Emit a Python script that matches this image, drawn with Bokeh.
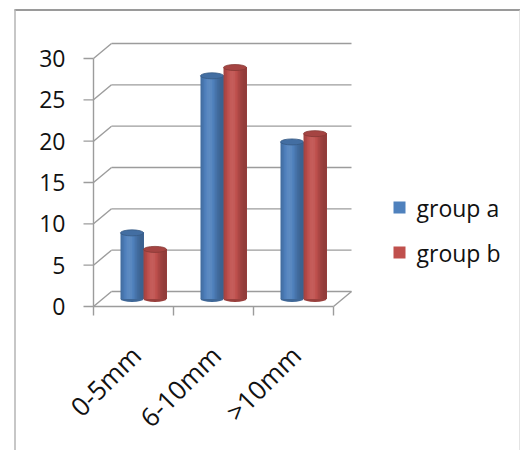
import math
from bokeh.plotting import figure
from bokeh.models import Range1d, ColumnDataSource
from bokeh.core.properties import value
from bokeh.embed import file_html
from bokeh.resources import INLINE

# ---- data ----
categories = ["0-5mm", "6-10mm", ">10mm"]
group_a = [8, 27, 19]
group_b = [6, 28, 20]
series_names = ["group a", "group b"]
y_ticks = [0, 5, 10, 15, 20, 25, 30]

# ---- layout constants (screen pixels) ----
W, H = 520, 450
PX_PER_CAT = 80.0          # horizontal pixels per category
CAT0_PX = 133.0            # pixel x of first category centre (front plane)
ZERO_PX = 306.0            # pixel y (from top) of value 0 on the front plane
PX_PER_UNIT = (306.0 - 58.0) / 30.0
FONT = value("Open Sans")
FS = "23px"

def X(px):
    return (px - CAT0_PX) / PX_PER_CAT

def Y(py):
    return (ZERO_PX - py) / PX_PER_UNIT

# 3-D depth offset of the back wall, in data units
DX = 18.0 / PX_PER_CAT
DY = 15.0 / PX_PER_UNIT

p = figure(width=W, height=H, x_range=Range1d(X(0), X(W)), y_range=Range1d(Y(H), Y(0)),
           output_backend="svg", toolbar_location=None, min_border=0,
           x_axis_location=None, y_axis_location=None)
p.grid.visible = False
p.outline_line_color = None
p.background_fill_color = "white"
p.border_fill_color = "white"

# chart-area border (top and left edges)
p.segment(x0=[X(14), X(14.5)], y0=[Y(9.5), Y(9)], x1=[X(W), X(14.5)], y1=[Y(9.5), Y(H)],
          line_color=["#9a9a9a", "#b4b4b4"], line_width=[2, 1.5])
p.segment(x0=[X(519)], y0=[Y(10)], x1=[X(519)], y1=[Y(H)], line_color="#e4e4e4", line_width=1)

GRID = "#9c9c9c"
n = len(categories)
x_left, x_right = -0.5, n - 0.5
tick_len = 10.0 / PX_PER_CAT

# back-wall gridlines, side diagonals and y ticks
p.segment(x0=[x_left + DX] * len(y_ticks), y0=[v + DY for v in y_ticks],
          x1=[x_right + DX] * len(y_ticks), y1=[v + DY for v in y_ticks],
          line_color=GRID, line_width=1.4)
p.segment(x0=[x_left] * len(y_ticks), y0=y_ticks,
          x1=[x_left + DX] * len(y_ticks), y1=[v + DY for v in y_ticks],
          line_color=GRID, line_width=1.4)
p.segment(x0=[x_left - tick_len] * len(y_ticks), y0=y_ticks,
          x1=[x_left] * len(y_ticks), y1=y_ticks, line_color=GRID, line_width=1.4)
# front vertical axis
p.segment(x0=[x_left], y0=[min(y_ticks)], x1=[x_left], y1=[max(y_ticks)],
          line_color=GRID, line_width=1.4)
# floor front edge and right diagonal
p.segment(x0=[x_left, x_right], y0=[0, 0], x1=[x_right, x_right + DX], y1=[0, DY],
          line_color=GRID, line_width=1.4)
# category ticks
cat_edges = [x_left + i for i in range(n + 1)]
p.segment(x0=cat_edges, y0=[0] * len(cat_edges), x1=cat_edges,
          y1=[-9.0 / PX_PER_UNIT] * len(cat_edges), line_color=GRID, line_width=1.4)

# y tick labels
p.text(x=[X(65)] * len(y_ticks), y=y_ticks, text=[str(v) for v in y_ticks],
       text_align="right", text_baseline="middle", text_font=FONT,
       text_font_size=FS, text_color="#111111")

# category labels, rotated 45 degrees
p.text(x=[i + 0.03 for i in range(n)], y=[-5.3] * n, text=categories,
       angle=math.pi / 4, text_align="right", text_baseline="middle",
       text_font=FONT, text_font_size="26px", text_color="#111111")

# ---- cylinder bars ----
BASE = [(79, 129, 189), (192, 80, 77)]
BAR_W = 23.0 / PX_PER_CAT
ELL_H = 6.0 / PX_PER_UNIT
N_STRIPS = 14

def shade(rgb, f):
    if f <= 1:
        return "#%02x%02x%02x" % tuple(int(c * f) for c in rgb)
    t = f - 1
    return "#%02x%02x%02x" % tuple(int(c + (255 - c) * t) for c in rgb)

def strip_factor(t):
    # light falling from front-left on a round column
    return 0.74 + 0.34 * math.exp(-((t - 0.38) / 0.33) ** 2)

for s, vals in enumerate([group_a, group_b]):
    rgb = BASE[s]
    centers = [i + DX / 2 + (s - 0.5) * BAR_W + 1.0 / PX_PER_CAT for i in range(n)]
    base_y = DY / 2
    # bottom cap
    p.ellipse(x=centers, y=[base_y] * n, width=BAR_W, height=ELL_H,
              fill_color=shade(rgb, 0.8), line_color=None)
    # each strip runs to the right edge; later strips cover earlier ones,
    # so no hairline gaps appear between neighbouring strips
    L, R, T, B, C = [], [], [], [], []
    for c, v in zip(centers, vals):
        for j in range(N_STRIPS):
            t = (j + 0.5) / N_STRIPS
            L.append(c - BAR_W / 2 + j * BAR_W / N_STRIPS)
            R.append(c + BAR_W / 2)
            B.append(base_y)
            T.append(v + base_y)
            C.append(shade(rgb, strip_factor(t)))
    p.quad(source=ColumnDataSource(dict(left=L, right=R, top=T, bottom=B, color=C)),
           left="left", right="right", top="top", bottom="bottom",
           fill_color="color", line_color=None)
    # top cap
    p.ellipse(x=centers, y=[v + base_y for v in vals], width=BAR_W, height=ELL_H,
              fill_color=shade(rgb, 0.86), line_color=shade(rgb, 0.7), line_width=0.8)

# ---- legend ----
leg_y = [Y(207), Y(252)]
p.scatter(x=[X(399)] * 2, y=leg_y, marker="square", size=12,
          fill_color=[shade(c, 1.0) for c in BASE], line_color=None)
p.text(x=[X(416)] * 2, y=leg_y, text=series_names, text_align="left",
       text_baseline="middle", text_font=FONT, text_font_size=FS, text_color="#111111")

open("out.html", "w").write(file_html(p, INLINE))
